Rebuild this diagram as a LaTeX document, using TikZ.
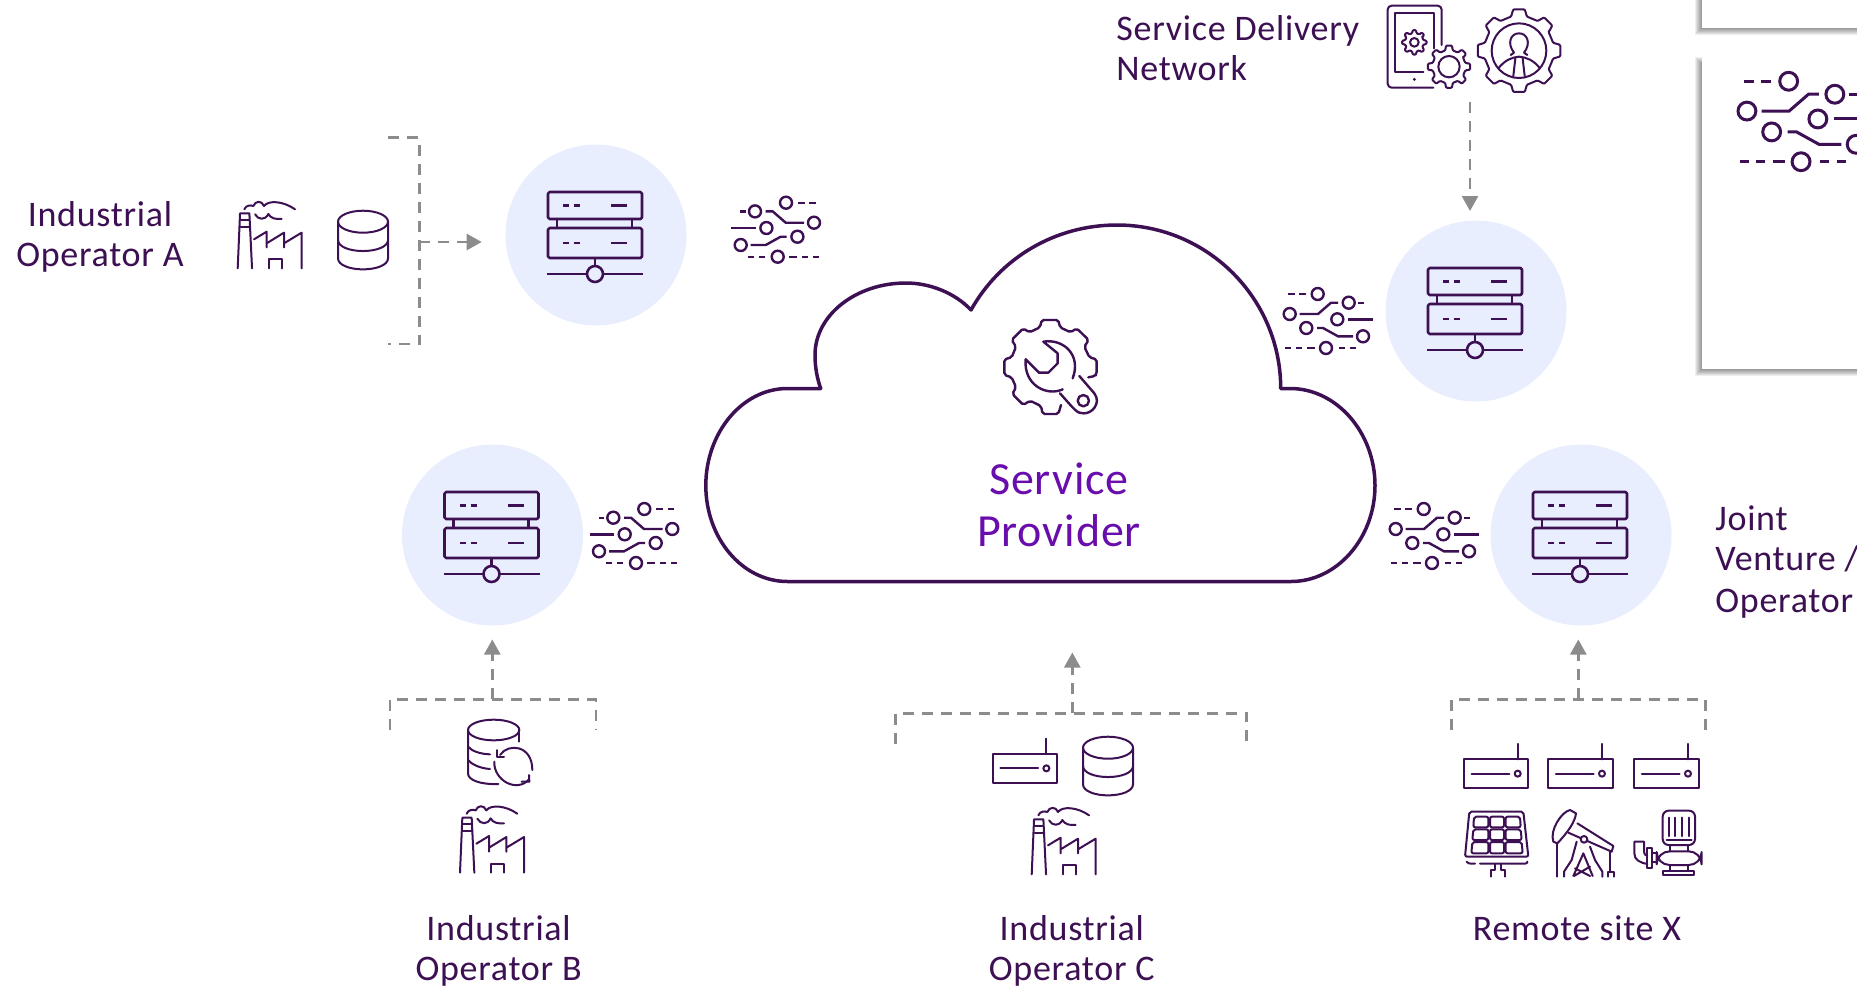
\documentclass[tikz,border=0pt]{standalone}
\usepackage{fontspec}
\setmainfont{Carlito}[LetterSpace=2]
\usetikzlibrary{arrows.meta}
\definecolor{ink}{HTML}{3C1053}
\definecolor{vio}{HTML}{6A0DAD}
\definecolor{hubfill}{HTML}{E8EEFD}
\definecolor{dashgray}{HTML}{8C8C8C}
\newcommand{\gearline}[4]{% cx,cy,ri,ro
  \draw[rounded corners=0.5pt,shift={(#1,#2)}] ({-32}:#3)
    \foreach \a in {0,45,...,315} { -- ({\a-13}:#3) -- ({\a-8}:#4) -- ({\a+8}:#4) -- ({\a+13}:#3) } -- cycle;}
\tikzset{
  x=0.5pt,y=-0.5pt,
  lab/.style={text=ink,font=\fontsize{18}{20}\selectfont,inner sep=0pt},
  hub/.style={circle,fill=hubfill,minimum size=90.5pt,inner sep=0pt},
  bracket/.style={draw=dashgray,line width=1.25pt,dash pattern=on 5.5pt off 4pt},
  flow/.style={bracket,-{Triangle[length=7.5pt,width=8pt,fill=dashgray]}},
  iconline/.style={draw=ink,line width=1pt,line cap=round,line join=round},
  chipline/.style={draw=ink,line width=1.2pt},
  servericon/.pic={
    \begin{scope}[draw=ink,line width=1.3pt,line join=round]
    \draw[rounded corners=0.8pt] (-48,-43) rectangle (46,-16);
    \draw[rounded corners=0.8pt] (-48,-7) rectangle (46,23);
    \draw (-39,-16) -- (-39,-7) (36,-16) -- (36,-7);
    \draw (-33,-29.5) -- (-27,-29.5) (-22,-29.5) -- (-16,-29.5) (15,-29.5) -- (31,-29.5);
    \draw (-33,8) -- (-27,8) (-22,8) -- (-16,8) (15,8) -- (31,8);
    \draw (-1,23) -- (-1,31);
    \draw (-49,39) -- (-9,39) (7,39) -- (47,39);
    \draw (-1,39) circle (8);
    \end{scope}},
  chipicon/.pic={
    \foreach \p in {(-10.3,-26),(20.7,-17.3),(-38.3,-6),(9.3,-0.7),(-21.7,8),(35,16.3),(-2,28)}
      {\draw \p circle (6);}
    \draw (-40,-26) -- (-33.5,-26) (-29,-26) -- (-22,-26);
    \draw (-28.5,-6) -- (-10,-6) -- (3,-17.3) -- (10,-17.3);
    \draw (30,-17.3) -- (35.5,-17.3);
    \draw (20,-0.7) -- (44.5,-0.7);
    \draw (-11,8) -- (-5,8) -- (10,16.3) -- (25,16.3);
    \draw (-43,28) -- (-37,28) (-32,28) -- (-26,28) (-21,28) -- (-13,28);
    \draw (11,28) -- (17,28) (22,28) -- (28,28);},
  factoryicon/.pic={
    \begin{scope}[scale=1/3,shift={(-713,-445)},iconline]
    \draw (713,445) -- (720,280) -- (748,280) -- (756,445);
    \draw (722,300) -- (748,300) (722,320) -- (748,320);
    \draw (762,358) -- (800,335) -- (800,382) (800,370) -- (852,338) -- (852,382) (852,370) -- (905,338) -- (905,445);
    \draw (807,445) -- (807,418) -- (846,418) -- (846,445);
    \draw (733,268) .. controls (738,255) and (752,255) .. (760,258) .. controls (765,243) and (785,240) .. (792,258) .. controls (805,240) and (850,243) .. (885,268);
    \draw (765,283) .. controls (775,300) and (795,302) .. (805,282) .. controls (812,295) and (825,298) .. (845,297);
    \end{scope}},
  dbicon/.pic={
    \begin{scope}[scale=1/3,iconline]
    \draw (0,0) ellipse (75 and 33);
    \draw (-75,0) -- (-75,110) .. controls (-75,130) and (-40,143) .. (0,143) .. controls (40,143) and (75,130) .. (75,110) -- (75,0);
    \draw (-75,55) .. controls (-75,75) and (-40,88) .. (0,88) .. controls (40,88) and (75,75) .. (75,55);
    \end{scope}},
  routericon/.pic={
    \begin{scope}[scale=1/3,iconline]
    \draw (0,0) rectangle (193,87);
    \draw (161,0) -- (161,-46);
    \draw (23,43) -- (136,43);
    \draw (161,43) circle (9);
    \end{scope}}
}
\begin{document}
\begin{tikzpicture}
\useasboundingbox (0,0) rectangle (1857,986);
\clip (0,0) rectangle (1857,986);
\fill[white] (0,0) rectangle (1857,986);

% panels at the right edge
\foreach \i in {7,6,5,4,3,2,1}{
  \fill[black,opacity=0.065] (1702-\i,-5) rectangle (1860,27.5+\i);
  \fill[black,opacity=0.065] (1702-\i,64-\i) rectangle (1860,369+\i);
}
\fill[white] (1702,-5) rectangle (1860,27.5);
\fill[white] (1702,53) rectangle (1860,369);
\pic[chipline,line width=1.5pt,scale=1.49] at (1804,120) {chipicon};

% cloud
\draw[draw=ink,line width=1.75pt,fill=white,line join=round] (787.5,581.5)
  .. controls (742,581.5) and (705.8,538) .. (705.8,485.5)
  .. controls (705.8,433) and (742,388.5) .. (787.5,388.5) -- (820.7,388.5)
  .. controls (817,378) and (815,367) .. (815,355)
  .. controls (815,315) and (856,283) .. (906,283)
  .. controls (930,283) and (955,293) .. (971,310)
  .. controls (1000,258) and (1055,225) .. (1117,225)
  .. controls (1207,225) and (1280.7,298) .. (1280.7,388.5)
  -- (1290,388.5)
  .. controls (1337,388.5) and (1375,433) .. (1375,485.5)
  .. controls (1375,538) and (1337,581.5) .. (1291,581.5) -- cycle;
\node[text=vio,font=\fontsize{23}{26}\selectfont,align=center,inner sep=0pt] (sp) at (1059,505) {Service\\Provider};

% wrench + gear
\begin{scope}[shift={(960,300)},scale=1/3,draw=ink,line width=1.2pt,line cap=round,line join=round]
\draw[rounded corners=1pt] (385,232) -- (405,228) -- (410,222) -- (410,178) -- (388,172) -- (373,140) -- (386,120) -- (350,85) -- (332,97) -- (300,82) -- (295,60) -- (245,60) -- (240,82) -- (208,97) -- (190,85) -- (155,120) -- (168,140) -- (155,172) -- (133,178) -- (133,225) -- (155,232) -- (168,262) -- (157,282) -- (190,315) -- (210,302) -- (243,318) -- (248,342) -- (295,342) -- (303,315);
\draw (197,178) -- (237,218) -- (265,218) -- (293,190) -- (293,160) -- (250,125) .. controls (310,115) and (365,165) .. (338,235);
\draw (358,228) -- (403,280) .. controls (425,310) and (395,342) .. (370,340) .. controls (350,340) and (345,330) .. (300,280);
\draw (308,268) .. controls (260,290) and (190,255) .. (197,178);
\draw (370,302) circle (17);
\end{scope}

% hubs
\node[hub] (hubA) at (596,235) {};
\node[hub] (hubS) at (1476,311) {};
\node[hub] (hubB) at (492.5,535) {};
\node[hub] (hubJ) at (1581,535) {};
\pic at (hubA) {servericon};
\pic at (hubS) {servericon};
\pic at (hubB) {servericon};
\pic at (hubJ) {servericon};

% chips
\pic[chipline,xscale=-1] at (775.7,228.7) {chipicon};
\pic[chipline,xscale=-1] at (634,535) {chipicon};
\pic[chipline] at (1328,320) {chipicon};
\pic[chipline] at (1434,535) {chipicon};

% brackets and flows
\coordinate (aTop) at (388.3,137.7);
\coordinate (aCor) at (419.3,137.7);
\coordinate (aCor2) at (419.3,344);
\coordinate (aBot) at (388.3,344);
\coordinate (aOut) at (419.3,242);
\coordinate (aTip) at (481.7,242);
\draw[bracket] (aTop) -- (aCor) -- (aCor2) -- (aBot);
\draw[flow] (aOut) -- (aTip);

\coordinate (sOut) at (1470,102);
\coordinate (sTip) at (1470,211);
\draw[flow] (sOut) -- (sTip);

\coordinate (bL) at (390,730);
\coordinate (bR) at (596,730);
\coordinate (bOut) at (492.3,699.3);
\coordinate (bTip) at (492.3,639.5);
\draw[bracket] (bL) -- (bL|-bOut) -- (bR|-bOut) -- (bR);
\draw[flow] (bOut) -- (bTip);

\coordinate (cL) at (895.7,744.3);
\coordinate (cR) at (1246.7,744.3);
\coordinate (cOut) at (1072.3,713.3);
\coordinate (cTip) at (1072.3,652.5);
\draw[bracket] (cL) -- (cL|-cOut) -- (cR|-cOut) -- (cR);
\draw[flow] (cOut) -- (cTip);

\coordinate (jL) at (1451.7,730);
\coordinate (jR) at (1705.7,730);
\coordinate (jOut) at (1578.3,699.3);
\coordinate (jTip) at (1578.3,639.5);
\draw[bracket] (jL) -- (jL|-jOut) -- (jR|-jOut) -- (jR);
\draw[flow] (jOut) -- (jTip);

% factories, barrels, routers
\pic at (237.7,268.3) {factoryicon};
\pic at (460,872.7) {factoryicon};
\pic at (1031.7,874.3) {factoryicon};
\pic at (363,221.7) {dbicon};
\pic at (1108,747.7) {dbicon};
\pic at (992.7,754) {routericon};
\pic at (1464,759.3) {routericon};
\pic at (1548.3,759.3) {routericon};
\pic at (1634.3,759.3) {routericon};

% database with sync
\begin{scope}[shift={(380,690)},scale=1/3,iconline]
\draw (341,120) ellipse (77 and 31);
\draw (264,120) -- (264,250) .. controls (264,270) and (300,284) .. (355,282);
\draw (418,120) -- (418,155);
\draw (264,170) .. controls (275,183) and (300,192) .. (330,193);
\draw (264,210) .. controls (275,223) and (300,235) .. (330,237);
\draw (360,195) .. controls (385,158) and (457,165) .. (457,240);
\draw (343,215) .. controls (340,270) and (410,310) .. (447,268);
\draw (350,180) -- (350,200) -- (372,200);
\draw (447,255) -- (448,275) -- (425,275);
\end{scope}

% solar, pumpjack, pump
\begin{scope}[shift={(1440,690)},scale=1/3,iconline]
\draw[rounded corners=1pt] (88,365) -- (250,365) -- (265,500) -- (75,500) -- cycle;
\draw[rounded corners=1pt] (102,380) -- (145,380) -- (145,412) -- (100,412) -- cycle;
\draw[rounded corners=1pt] (150,380) -- (192,380) -- (192,412) -- (150,412) -- cycle;
\draw[rounded corners=1pt] (197,380) -- (240,380) -- (242,412) -- (197,412) -- cycle;
\draw[rounded corners=1pt] (100,418) -- (145,418) -- (145,450) -- (97,450) -- cycle;
\draw[rounded corners=1pt] (150,418) -- (192,418) -- (192,450) -- (150,450) -- cycle;
\draw[rounded corners=1pt] (197,418) -- (242,418) -- (245,450) -- (197,450) -- cycle;
\draw[rounded corners=1pt] (97,456) -- (145,456) -- (145,490) -- (94,490) -- cycle;
\draw[rounded corners=1pt] (150,456) -- (192,456) -- (192,490) -- (150,490) -- cycle;
\draw[rounded corners=1pt] (197,456) -- (245,456) -- (248,490) -- (197,490) -- cycle;
\draw (80,515) .. controls (82,520) and (85,521) .. (105,521) (120,521) -- (255,521) .. controls (260,521) and (262,518) .. (262,515);
\draw (152,560) -- (152,540) -- (165,540) -- (165,522) (183,522) -- (183,540) -- (196,540) -- (196,560);
\draw (340,455) .. controls (328,420) and (365,365) .. (390,360) -- (408,370) .. controls (405,395) and (385,425) .. (352,460) -- cycle;
\draw (412,400) -- (520,468) -- (515,485) -- (385,428);
\draw[fill=white] (432,448) circle (10);
\draw (350,460) -- (350,560);
\draw (410,455) -- (395,510) -- (372,545) -- (372,560);
\draw (450,470) -- (465,510) -- (487,545) -- (487,560);
\draw (430,490) -- (400,558) (430,490) -- (458,558) (405,535) -- (450,558) (450,530) -- (402,558);
\draw (510,485) -- (510,545);
\draw (503,560) -- (503,545) -- (523,545) -- (523,560);
\draw[rounded corners=3pt] (668,362) rectangle (765,465);
\draw (688,383) -- (688,438) (705,383) -- (705,438) (727,383) -- (727,438) (746,383) -- (746,438);
\draw (680,450) -- (755,450);
\draw (690,465) -- (690,484) (745,465) -- (745,484);
\draw[rounded corners=6.5pt] (650,484) rectangle (785,525);
\draw (690,525) -- (690,543) (745,525) -- (745,543);
\draw (670,543) rectangle (763,555);
\draw (622,475) rectangle (637,533);
\draw (637,490) -- (650,490) (637,515) -- (650,515);
\draw (622,522) .. controls (600,518) and (583,510) .. (583,490) -- (583,455) -- (612,455) -- (612,485) .. controls (612,492) and (616,497) .. (622,497);
\end{scope}

% service delivery icons
\begin{scope}[shift={(1090,0)},scale=1/3,iconline]
\draw[rounded corners=2pt] (1030,263) -- (893,263) -- (893,17) -- (1055,17) -- (1055,135);
\draw (1000,215) -- (915,215) -- (915,38) -- (1033,38) -- (1033,145);
\fill[ink] (973,238) circle (5);
\gearline{973}{127}{28}{37}
\draw (973,127) circle (13);
\gearline{1077}{200}{50}{64}
\draw (1077,200) circle (32);
\gearline{1287}{152}{105}{125}
\draw (1287,152) circle (82);
\draw (1272,158) .. controls (1250,130) and (1262,100) .. (1287,100) .. controls (1312,100) and (1324,130) .. (1302,158) -- (1312,165) (1272,158) -- (1262,165);
\draw (1225,205) .. controls (1245,180) and (1265,172) .. (1287,170) .. controls (1310,172) and (1330,180) .. (1350,205);
\draw (1276,175) -- (1270,228) (1298,175) -- (1304,228);
\end{scope}

% labels
\node[lab,align=center] (lA) at (100,237) {Industrial\\Operator A};
\node[lab,align=left,anchor=west] (lS) at (1116,48) {Service Delivery\\Network};
\node[lab,align=left,anchor=west] (lJ) at (1715,562) {Joint\\Venture /\\[1pt]Operator};
\node[lab,align=center] (lB) at (498.6,951) {Industrial\\Operator B};
\node[lab,align=center] (lC) at (1071.8,951) {Industrial\\Operator C};
\node[lab] (lR) at (1577,928) {Remote site X};
\end{tikzpicture}
\end{document}
